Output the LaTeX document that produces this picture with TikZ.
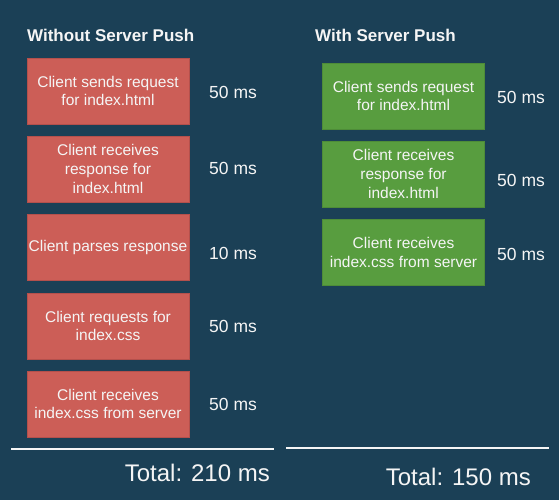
\documentclass[tikz,border=0pt]{standalone}
\usepackage{fontspec}
\setmainfont{Liberation Sans}
\definecolor{bg}{RGB}{27,64,86}
\definecolor{redbox}{RGB}{204,94,87}
\definecolor{redline}{RGB}{180,80,76}
\definecolor{greenbox}{RGB}{88,157,63}
\definecolor{greenline}{RGB}{78,140,56}
\definecolor{txt}{RGB}{245,245,245}
\begin{document}
\begin{tikzpicture}[x=1pt,y=-1pt,
  step box/.style={minimum width=162pt,minimum height=66pt,inner sep=1pt,align=center,
    text=txt,font=\fontsize{15.5}{18.8}\selectfont,line width=0.8pt},
  redstep/.style={step box,fill=redbox,draw=redline},
  greenstep/.style={step box,fill=greenbox,draw=greenline},
  timing/.style={text=txt,font=\fontsize{17.5}{20}\selectfont,anchor=west,inner sep=0pt},
  title/.style={text=txt,font=\bfseries\fontsize{17}{20}\selectfont,anchor=west,inner sep=0pt},
  total/.style={text=txt,font=\fontsize{24}{28}\selectfont,anchor=east,inner sep=0pt},
  rule/.style={draw=txt,line width=1.2pt}]
\fill[bg] (0,0) rectangle (559,500);
\useasboundingbox (0,0) rectangle (559,500);
% left column
\node[title] (t1) at (27,35) {Without Server Push};
\node[redstep] (a1) at (108,91) {Client sends request\\for index.html};
\node[redstep] (a2) at (108,169) {Client receives\\response for\\index.html};
\node[redstep] (a3) at (108,247.5) {Client parses response};
\node[redstep] (a4) at (108,326) {Client requests for\\index.css};
\node[redstep] (a5) at (108,404) {Client receives\\index.css from server};
\node[timing] (ta1) at (209,92) {50 ms};
\node[timing] (ta2) at (209,168) {50 ms};
\node[timing] (ta3) at (209,253) {10 ms};
\node[timing] (ta4) at (209,326) {50 ms};
\node[timing] (ta5) at (209,404) {50 ms};
\coordinate (l1) at (11,449);
\coordinate (l2) at (274,449);
\draw[rule] (l1) -- (l2);
\node[total] (tot1) at (270,473) {Total: 210 ms};
% right column
\node[title] (t2) at (315,35) {With Server Push};
\node[greenstep] (b1) at (403.5,96) {Client sends request\\for index.html};
\node[greenstep] (b2) at (403.5,174) {Client receives\\response for\\index.html};
\node[greenstep] (b3) at (403.5,252.5) {Client receives\\index.css from server};
\node[timing] (tb1) at (497,97) {50 ms};
\node[timing] (tb2) at (497,180) {50 ms};
\node[timing] (tb3) at (497,254) {50 ms};
\coordinate (r1) at (286,448);
\coordinate (r2) at (549,448);
\draw[rule] (r1) -- (r2);
\node[total] (tot2) at (531,477) {Total: 150 ms};
\end{tikzpicture}
\end{document}
